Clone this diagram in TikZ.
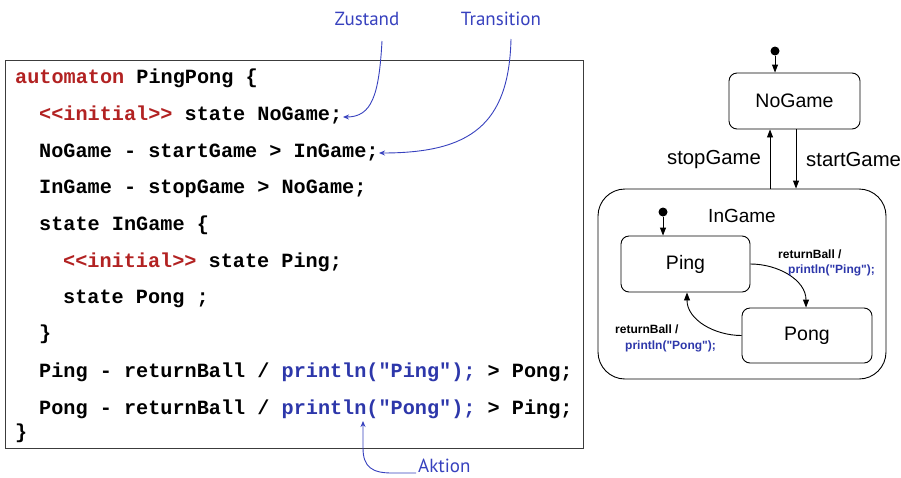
\documentclass[tikz,border=0pt]{standalone}
\usepackage{fontspec}
\newfontfamily\codefont{Liberation Mono}
\newfontfamily\diagfont{Liberation Sans}
\newfontfamily\handfont{PT Sans}
\usetikzlibrary{arrows.meta}
\definecolor{kwred}{RGB}{178,34,34}
\definecolor{annblue}{RGB}{55,65,190}
\definecolor{actblue}{RGB}{45,55,170}
\definecolor{boxgray}{RGB}{60,60,60}
\tikzset{
  codeline/.style={anchor=base west, inner sep=0pt, font=\codefont\bfseries\fontsize{20.2}{24}\selectfont},
  ann/.style={inner sep=0pt, text=annblue, font=\handfont\fontsize{19}{22}\selectfont},
  annarrow/.style={draw=annblue, line width=0.9pt, -{Stealth[length=6pt,width=5pt]}},
  stbox/.style={draw, rounded corners=8pt, line width=0.9pt, font=\diagfont\fontsize{19.5}{23}\selectfont, inner sep=0pt},
  trarrow/.style={line width=0.9pt, -{Triangle[length=8pt,width=6pt]}},
  dot/.style={circle, fill, inner sep=0pt, minimum size=9pt},
  evlabel/.style={font=\diagfont\fontsize{20.3}{24}\selectfont, inner sep=0pt},
  smalllab/.style={font=\diagfont\bfseries\fontsize{12}{14}\selectfont, inner sep=0pt, anchor=west},
}
\begin{document}
\begin{tikzpicture}[x=1pt,y=-1pt]
\useasboundingbox (0,0) rectangle (901,477);
% code box
\node (codebox) [draw=boxgray, line width=1.2pt, anchor=north west, minimum width=578pt, minimum height=388pt, inner sep=0pt] at (5,60) {};
\node[codeline] (l1) at (15,83) {\textcolor{kwred}{automaton} PingPong \{};
\node[codeline] (l2) at (39,120) {\textcolor{kwred}{<{}<initial>{}>} state NoGame;};
\node[codeline] (l3) at (39,157) {NoGame - startGame > InGame;};
\node[codeline] (l4) at (39,193) {InGame - stopGame > NoGame;};
\node[codeline] (l5) at (39,230) {state InGame \{};
\node[codeline] (l6) at (63,267) {\textcolor{kwred}{<{}<initial>{}>} state Ping;};
\node[codeline] (l7) at (63,303) {state Pong ;};
\node[codeline] (l8) at (39,339) {\}};
\node[codeline] (l9) at (39,377) {Ping - returnBall / \textcolor{actblue}{println("Ping");} > Pong;};
\node[codeline] (l10) at (39,414) {Pong - returnBall / \textcolor{actblue}{println("Pong");} > Ping;};
\node[codeline] (l11) at (15,438) {\}};
% annotations
\node[ann] (zst) at (367,19) {Zustand};
\node[ann] (trn) at (501,19) {Transition};
\node[ann, anchor=west] (akt) at (418,466) {Aktion};
\coordinate (zsA) at (382,41);
\coordinate (zsB) at (343,117);
\coordinate (trA) at (511,39);
\coordinate (trB) at (379,153);
\coordinate (akA) at (416,473);
\coordinate (akB) at (363,421);
\draw[annarrow] (zsA) .. controls (379,95) and (372,117) .. (zsB);
\draw[annarrow] (trA) .. controls (509,125) and (470,153) .. (trB);
\draw[annarrow] (akA) -- (392,473) .. controls (372,473) and (363,467) .. (363,448) -- (akB);
% state diagram
\node[stbox, minimum width=131pt, minimum height=56pt] (nogame) at (794.5,101) {NoGame};
\node[stbox, rounded corners=27pt, minimum width=288pt, minimum height=190pt] (ingame) at (742,284) {};
\node[inner sep=0pt, font=\diagfont\fontsize{19}{23}\selectfont] (ingamelab) at (742,216) {InGame};
\node[stbox, minimum width=129pt, minimum height=56pt] (ping) at (685.5,264) {Ping};
\node[stbox, minimum width=130pt, minimum height=55pt] (pong) at (807,335.5) {Pong};
\node[dot] (init1) at (775,51) {};
\node[dot] (init2) at (663,212) {};
\draw[trarrow] (init1) -- (init1 |- nogame.north);
\draw[trarrow] (init2) -- (init2 |- ping.north);
\coordinate (xs) at (770,0);
\coordinate (xt) at (796,0);
\draw[trarrow] (ingame.north -| xs) -- (nogame.south -| xs);
\draw[trarrow] (nogame.south -| xt) -- (ingame.north -| xt);
\node[evlabel, anchor=east] (stoplab) at (761,160) {stopGame};
\node[evlabel, anchor=west] (startlab) at (806,160) {startGame};
\coordinate (xp) at (806,0);
\coordinate (xq) at (687,0);
\draw[trarrow] (ping.east) to[out=0, in=90] (pong.north -| xp);
\draw[trarrow] (pong.west) to[out=180, in=-90] (ping.south -| xq);
\node[smalllab] (rb1) at (778,254) {returnBall /};
\node[smalllab, text=actblue] (pr1) at (788,270) {println("Ping");};
\node[smalllab] (rb2) at (615,329) {returnBall /};
\node[smalllab, text=actblue] (pr2) at (625,346) {println("Pong");};
\end{tikzpicture}
\end{document}
